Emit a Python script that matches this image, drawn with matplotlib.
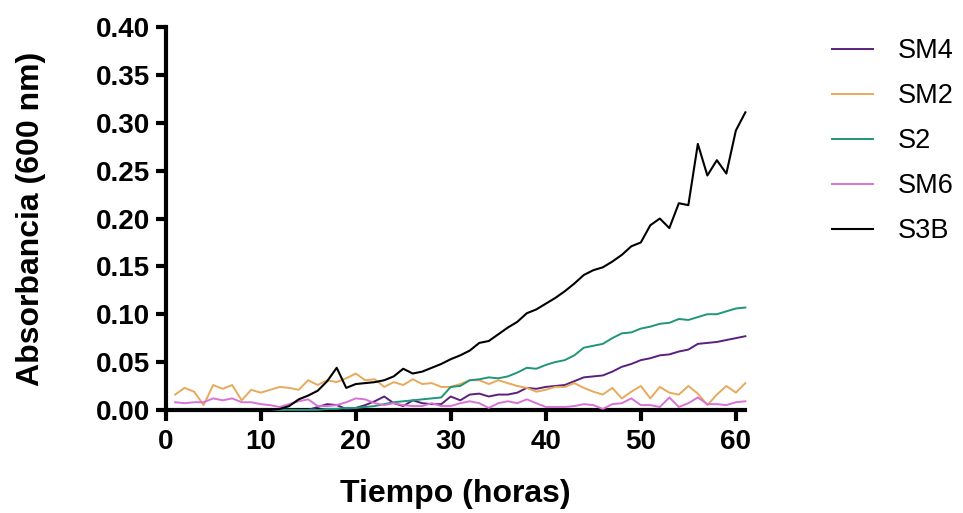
import numpy as np
import matplotlib
matplotlib.use('Agg')
import matplotlib.pyplot as plt

params = {
    'font.family': ['Liberation Sans', 'DejaVu Sans'],
    'axes.linewidth': 3.0,
    'xtick.major.width': 3.0,
    'ytick.major.width': 3.0,
    'xtick.major.size': 8,
    'ytick.major.size': 7,
    'xtick.direction': 'out',
    'ytick.direction': 'out',
}
plt.rcParams.update(params)

# time in hours
hours = np.arange(1, 62)

sm4 = [0, 0, 0, 0, 0, 0, 0, 0, 0, 0, 0, 0, 0, 0, 0,
       0.003, 0.006, 0.005, 0.001, 0.002, 0.005, 0.009, 0.014, 0.007, 0.004,
       0.010, 0.007, 0.006, 0.006, 0.014, 0.010, 0.016, 0.017, 0.014, 0.016,
       0.016, 0.018, 0.023, 0.022, 0.024, 0.025, 0.026, 0.030, 0.034, 0.035,
       0.036, 0.040, 0.045, 0.048, 0.052, 0.054, 0.057, 0.058, 0.061, 0.063,
       0.069, 0.070, 0.071, 0.073, 0.075, 0.077]

sm2 = [0.016, 0.023, 0.019, 0.005, 0.026, 0.022, 0.026, 0.010, 0.021, 0.018,
       0.021, 0.024, 0.023, 0.021, 0.031, 0.026, 0.031, 0.029, 0.033, 0.038,
       0.031, 0.032, 0.024, 0.029, 0.026, 0.032, 0.027, 0.028, 0.024, 0.024,
       0.027, 0.031, 0.031, 0.027, 0.031, 0.028, 0.025, 0.023, 0.019, 0.021,
       0.024, 0.024, 0.028, 0.023, 0.019, 0.016, 0.023, 0.012, 0.019, 0.025,
       0.012, 0.024, 0.018, 0.016, 0.025, 0.017, 0.005, 0.016, 0.025, 0.018,
       0.028]

s2 = [0, 0, 0, 0, 0, 0, 0, 0, 0, 0, 0, 0, 0, 0, 0, 0,
      0.001, 0.001, 0.002, 0.002, 0.003, 0.004, 0.006, 0.008, 0.009, 0.010,
      0.011, 0.012, 0.013, 0.024, 0.025, 0.031, 0.032, 0.034, 0.033, 0.035,
      0.039, 0.044, 0.043, 0.047, 0.050, 0.052, 0.057, 0.065, 0.067, 0.069,
      0.075, 0.080, 0.081, 0.085, 0.087, 0.090, 0.091, 0.095, 0.094, 0.097,
      0.100, 0.100, 0.103, 0.106, 0.107]

sm6 = [0.008, 0.007, 0.008, 0.008, 0.012, 0.010, 0.012, 0.008, 0.008, 0.006,
       0.005, 0.003, 0.006, 0.009, 0.011, 0.004, 0.004, 0.005, 0.008, 0.012,
       0.011, 0.007, 0.005, 0.007, 0.005, 0.004, 0.004, 0.007, 0.004, 0.004,
       0.007, 0.009, 0.007, 0.002, 0.007, 0.009, 0.007, 0.011, 0.007, 0.003,
       0.003, 0.003, 0.004, 0.006, 0.005, 0.001, 0.006, 0.007, 0.012, 0.005,
       0.005, 0.003, 0.013, 0.003, 0.007, 0.013, 0.006, 0.006, 0.005, 0.008,
       0.009]

s3b = [0, 0, 0, 0, 0, 0, 0, 0, 0, 0, 0,
       0.001, 0.004, 0.011, 0.015, 0.020, 0.030, 0.044, 0.023, 0.027, 0.028,
       0.029, 0.031, 0.035, 0.043, 0.038, 0.040, 0.044, 0.048, 0.053, 0.057,
       0.062, 0.070, 0.072, 0.079, 0.086, 0.092, 0.101, 0.105, 0.111, 0.117,
       0.124, 0.132, 0.141, 0.146, 0.149, 0.155, 0.162, 0.171, 0.175, 0.193,
       0.200, 0.190, 0.216, 0.214, 0.278, 0.245, 0.261, 0.247, 0.292, 0.311]

labels = ['SM4', 'SM2', 'S2', 'SM6', 'S3B']
series = [sm4, sm2, s2, sm6, s3b]
colors = ['#5b1f7d', '#e8a95c', '#1f9579', '#d972d6', '#000000']
widths = [1.4, 1.4, 1.4, 1.4, 1.5]

fig = plt.figure(figsize=(9.63, 5.13), dpi=100)
ax = fig.add_axes([0.172, 0.201, 0.602, 0.746])

for y, lab, c, lw in zip(series, labels, colors, widths):
    ax.plot(hours, y, color=c, lw=lw, label=lab, clip_on=False, zorder=3)

ax.set_xlim(0, 61)
ax.set_ylim(0, 0.40)
ax.set_xticks(np.arange(0, 61, 10))
ax.set_yticks(np.arange(0, 0.401, 0.05))
ax.set_yticklabels(['%.2f' % v for v in np.arange(0, 0.401, 0.05)])
for lbl in ax.get_xticklabels() + ax.get_yticklabels():
    lbl.set_fontweight('bold')
    lbl.set_fontsize(20)
ax.tick_params(axis='x', pad=6)
ax.tick_params(axis='y', pad=4)

ax.spines['top'].set_visible(False)
ax.spines['right'].set_visible(False)

ax.set_xlabel('Tiempo (horas)', fontsize=23, fontweight='bold', labelpad=17)
ax.set_ylabel('Absorbancia (600 nm)', fontsize=23, fontweight='bold', labelpad=36)

fig.legend(loc='upper left', bbox_to_anchor=(0.839, 0.973), frameon=False,
           fontsize=19.5, handlelength=1.5, handletextpad=0.9, labelspacing=0.7)

fig.savefig('out.png', dpi=100)
